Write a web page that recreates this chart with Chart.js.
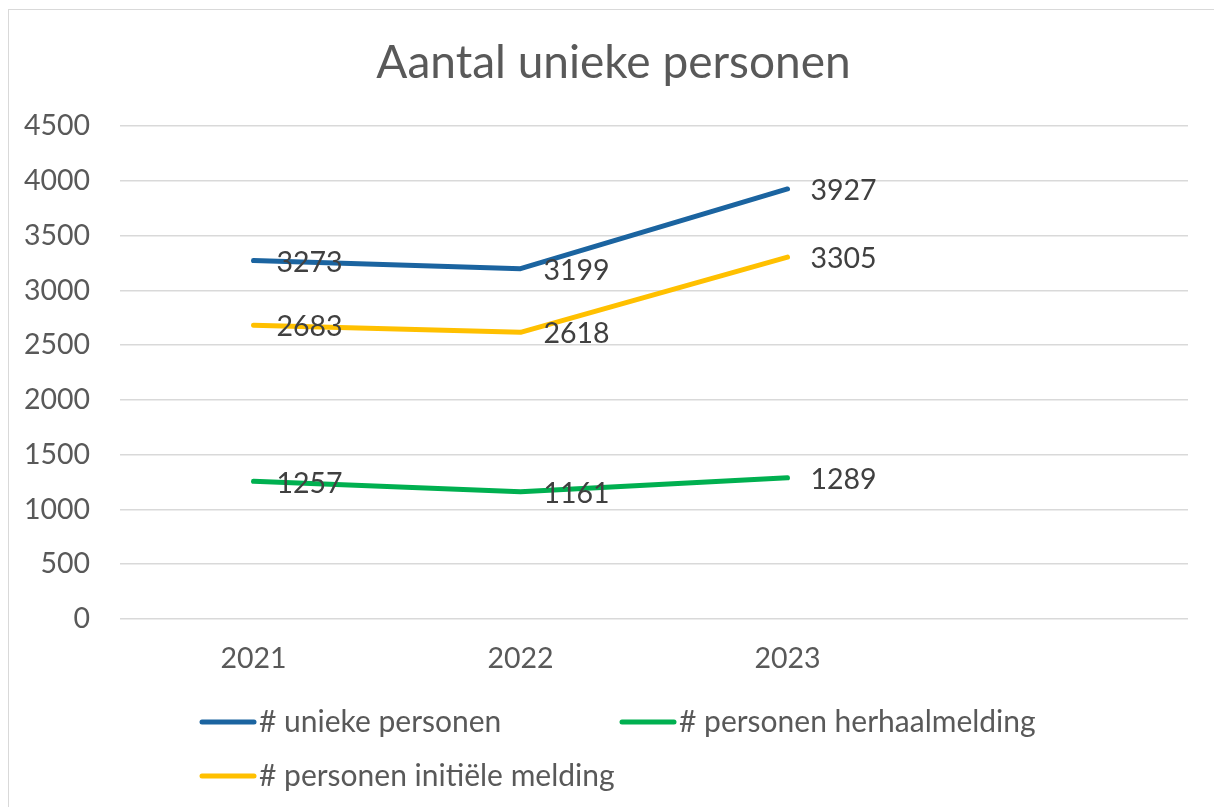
<!DOCTYPE html>
<html>
<head>
<meta charset="utf-8">
<script src="https://cdn.jsdelivr.net/npm/chart.js@4"></script>
<style>
html,body{margin:0;padding:0;background:#fff;}
#wrap{position:relative;width:1214px;height:807px;overflow:hidden;}
#frame{position:absolute;left:8px;top:9px;width:1300px;height:900px;border-left:1px solid #d9d9d9;border-top:1px solid #d9d9d9;pointer-events:none;}
canvas{position:absolute;left:0;top:0;}
</style>
</head>
<body>
<div id="wrap">
<canvas id="c" width="1214" height="807"></canvas>
<div id="frame"></div>
</div>
<script>
const categories = ['2021', '2022', '2023', ''];
const uniekePersonen = [3273, 3199, 3927];
const herhaalmelding = [1257, 1161, 1289];
const initieleMelding = [2683, 2618, 3305];
const yTicks = [0, 500, 1000, 1500, 2000, 2500, 3000, 3500, 4000, 4500];
const seriesNames = ['# unieke personen', '# personen herhaalmelding', '# personen initiële melding'];
const seriesColors = ['#1b64a0', '#00b050', '#ffc000'];

const FONT = 'Lato, "Open Sans", sans-serif';

const dataLabels = {
  id: 'dataLabels',
  afterDatasetsDraw(chart) {
    const ctx = chart.ctx;
    ctx.save();
    ctx.font = '28.5px ' + FONT;
    ctx.fillStyle = '#404040';
    ctx.textAlign = 'left';
    ctx.textBaseline = 'middle';
    chart.data.datasets.forEach((ds, i) => {
      const meta = chart.getDatasetMeta(i);
      meta.data.forEach((pt, j) => {
        ctx.fillText(String(ds.data[j]), pt.x + 23, pt.y + 2);
      });
    });
    ctx.restore();
  }
};

const customLegend = {
  id: 'customLegend',
  afterDraw(chart) {
    const ctx = chart.ctx;
    const pos = [[200, 722], [620, 722], [200, 776]];
    ctx.save();
    ctx.font = '30px ' + FONT;
    ctx.textAlign = 'left';
    ctx.textBaseline = 'middle';
    chart.data.datasets.forEach((ds, i) => {
      const [x, y] = pos[i];
      ctx.strokeStyle = ds.borderColor;
      ctx.lineWidth = 5;
      ctx.lineCap = 'round';
      ctx.beginPath();
      ctx.moveTo(x + 2, y);
      ctx.lineTo(x + 54, y);
      ctx.stroke();
      ctx.fillStyle = '#595959';
      ctx.fillText(ds.label, x + 59, y);
    });
    ctx.restore();
  }
};

const seriesData = [uniekePersonen, herhaalmelding, initieleMelding];

new Chart(document.getElementById('c'), {
  type: 'line',
  data: {
    labels: categories,
    datasets: seriesNames.map((name, i) => ({
      label: name,
      data: seriesData[i],
      borderColor: seriesColors[i],
      backgroundColor: seriesColors[i],
      borderWidth: 5,
      pointRadius: 0,
      borderCapStyle: 'round',
      borderJoinStyle: 'round',
      tension: 0,
      fill: false
    }))
  },
  options: {
    responsive: false,
    animation: false,
    events: [],
    layout: { padding: { left: 13, right: 0, top: 0, bottom: 0 } },
    plugins: {
      legend: { display: false },
      tooltip: { enabled: false },
      title: {
        display: true,
        text: 'Aantal unieke personen',
        color: '#595959',
        font: { family: FONT, size: 46, weight: 'normal', lineHeight: 1.2 },
        padding: { top: 36, bottom: 35 }
      }
    },
    scales: {
      x: {
        offset: true,
        grid: { display: false, drawTicks: false },
        border: { display: false },
        ticks: { color: '#595959', font: { family: FONT, size: 28.5 }, padding: 23, maxRotation: 0 },
        afterFit(scale) { scale.height = 188; }
      },
      y: {
        min: 0,
        max: 4500,
        afterBuildTicks(scale) { scale.ticks = yTicks.map(v => ({ value: v })); },
        grid: { color: '#d9d9d9', lineWidth: 1.5, drawTicks: false },
        border: { display: false },
        ticks: { color: '#595959', font: { family: FONT, size: 28.5 }, padding: 30, callback: v => String(v) },
        afterFit(scale) { scale.width = 107; }
      },
      spacer: {
        position: 'right',
        min: 0,
        max: 4500,
        grid: { display: false, drawTicks: false },
        border: { display: false },
        ticks: { display: false },
        afterFit(scale) { scale.width = 26; }
      }
    }
  },
  plugins: [dataLabels, customLegend]
});
</script>
</body>
</html>
